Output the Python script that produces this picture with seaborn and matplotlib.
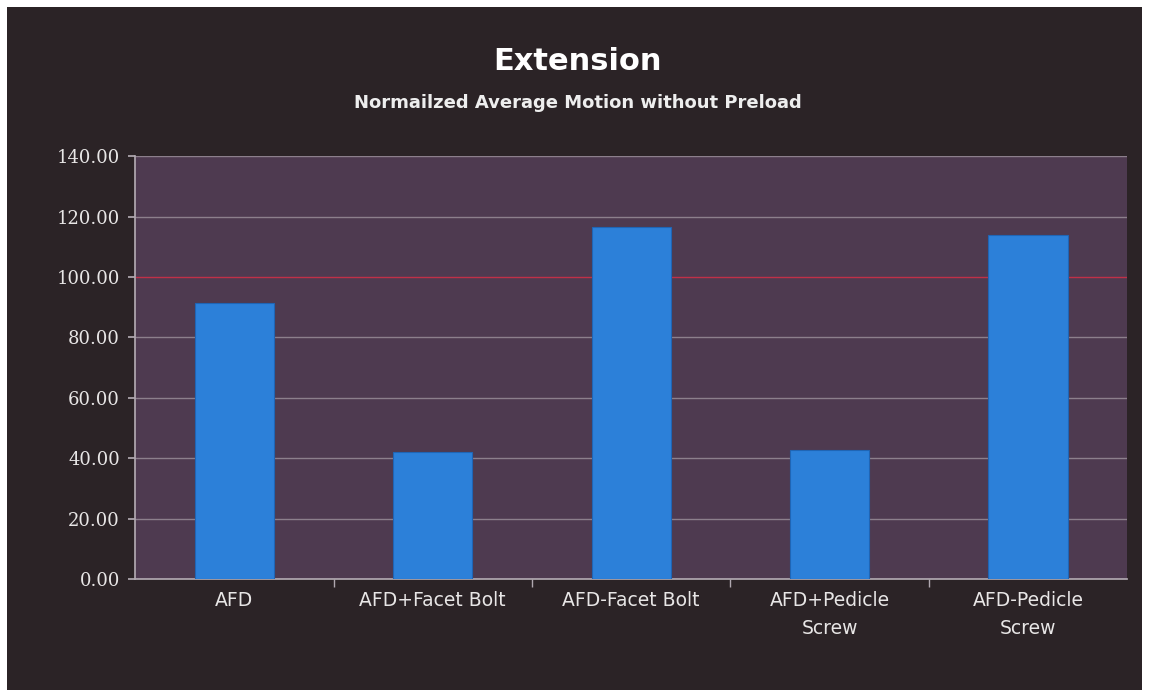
import matplotlib
matplotlib.use("Agg")
import matplotlib.pyplot as plt
import pandas as pd
import seaborn as sns
from matplotlib.patches import Rectangle

categories = ["AFD", "AFD+Facet Bolt", "AFD-Facet Bolt", "AFD+Pedicle\nScrew", "AFD-Pedicle\nScrew"]
motion = [91.5, 42.0, 116.5, 42.8, 114.0]
y_ticks = [0, 20, 40, 60, 80, 100, 120, 140]

df = pd.DataFrame({"construct": categories, "motion": motion})

sns.set_theme(style="white")
plt.rcParams["font.family"] = ["DejaVu Sans"]

panel = "#2b2326"
plot_bg = "#4e3a50"
bar_col = "#2c80d9"

fig = plt.figure(figsize=(11.56, 6.95), dpi=100)
fig.patch.set_facecolor("white")
fig.patches.append(Rectangle((0.006, 0.007), 0.982, 0.983, transform=fig.transFigure,
                             facecolor=panel, edgecolor="none", zorder=-5))

ax = fig.add_axes([0.117, 0.167, 0.858, 0.608])
ax.set_zorder(2)
ax.set_facecolor(plot_bg)

sns.barplot(data=df, x="construct", y="motion", ax=ax, color=bar_col,
            width=0.4, saturation=1, edgecolor="#1f65b5", linewidth=0.8, zorder=3)

ax.set_ylim(0, 140)
ax.set_yticks(y_ticks)
ax.set_yticklabels([f"{v:.2f}" for v in y_ticks], family="DejaVu Serif",
                   fontsize=13, color="#e8e6e6")
ax.set_xticks([i + 0.5 for i in range(len(categories) - 1)], minor=True)
for lbl in ax.get_xticklabels():
    lbl.set_linespacing(1.6)
ax.tick_params(axis="x", which="major", colors="#e8e6e6", labelsize=13.5, pad=9, length=0)
ax.tick_params(axis="x", which="minor", length=6, color="#b0a8b0", bottom=True)
ax.tick_params(axis="y", length=5, color="#b0a8b0", pad=6, left=True)

for v in y_ticks[1:]:
    col = "#c03048" if v == 100 else "#8c7f8c"
    ax.axhline(v, color=col, linewidth=1.0, zorder=1)

for side in ["top", "right"]:
    ax.spines[side].set_visible(False)
ax.spines["left"].set_color("#b0a8b0")
ax.spines["bottom"].set_color("#b0a8b0")

ax.set_xlabel("")
ax.set_ylabel("")

fig.text(0.5, 0.912, "Extension", ha="center", va="center", color="white",
         fontsize=22, fontweight="bold")
fig.text(0.5, 0.852, "Normailzed Average Motion without Preload", ha="center",
         va="center", color="#eeeeee", fontsize=13, fontweight="bold")

fig.savefig("out.png", dpi=100, facecolor=fig.get_facecolor())
